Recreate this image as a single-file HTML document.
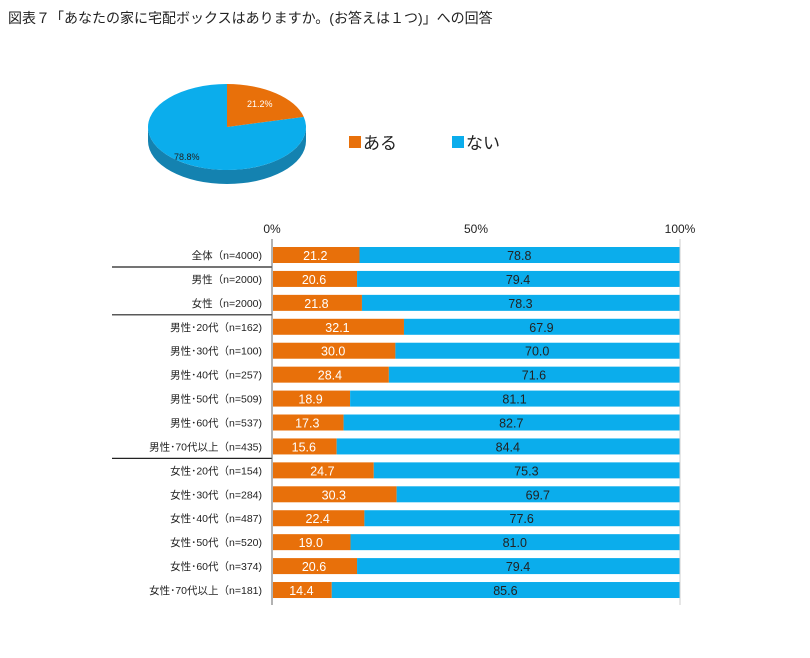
<!DOCTYPE html>
<html><head><meta charset="utf-8"><style>
body{margin:0;background:#fff;font-family:"Liberation Sans","Noto Sans CJK JP",sans-serif;}
</style></head><body>
<svg width="810" height="653" xmlns="http://www.w3.org/2000/svg" style="font-family:'Liberation Sans','Noto Sans CJK JP',sans-serif">
<text x="8" y="23" font-size="14" fill="#222">図表７「あなたの家に宅配ボックスはありますか。(お答えは１つ)」への回答</text>
<g id="pie"></g>
<rect x="349" y="136" width="12" height="12" fill="#e8700a"/>
<text x="363" y="149" font-size="17" fill="#222">ある</text>
<rect x="452" y="136" width="12" height="12" fill="#0badec"/>
<text x="466" y="149" font-size="17" fill="#222">ない</text>
<g id="bars"></g>
</svg>
<script>
const categories=["全体（n=4000)","男性（n=2000)","女性（n=2000)","男性･20代（n=162)","男性･30代（n=100)","男性･40代（n=257)","男性･50代（n=509)","男性･60代（n=537)","男性･70代以上（n=435)","女性･20代（n=154)","女性･30代（n=284)","女性･40代（n=487)","女性･50代（n=520)","女性･60代（n=374)","女性･70代以上（n=181)"];
const yesValues=[21.2,20.6,21.8,32.1,30.0,28.4,18.9,17.3,15.6,24.7,30.3,22.4,19.0,20.6,14.4];
const noValues=[78.8,79.4,78.3,67.9,70.0,71.6,81.1,82.7,84.4,75.3,69.7,77.6,81.0,79.4,85.6];
const tickValues=[0,50,100];
const separatorAfter=[0,2,8];
const pieValues=[21.2,78.8];
const NS="http://www.w3.org/2000/svg";
function mk(p,t,a){const e=document.createElementNS(NS,t);for(const k in a)e.setAttribute(k,a[k]);p.appendChild(e);return e;}
const x0=272,x1=680;
const xs=v=>x0+(x1-x0)*v/100;
const ys=i=>255+i*23.93;
const g=document.getElementById('bars');
tickValues.forEach(t=>{const tx=mk(g,'text',{x:xs(t),y:233,'font-size':12,fill:'#222','text-anchor':'middle'});tx.textContent=t+'%';

});
categories.forEach((c,i)=>{
 const y=ys(i);
 const l=mk(g,'text',{x:262,y:y+4,'font-size':10.5,fill:'#222','text-anchor':'end'});l.textContent=c;
 
 
 const b1=mk(g,'rect',{x:xs(0)+1,y:y-8,width:xs(yesValues[i])-xs(0),height:16,fill:'#e8700a'});
 
 
 const b2=mk(g,'rect',{x:xs(yesValues[i])+1,y:y-8,width:xs(100)-xs(yesValues[i])-1,height:16,fill:'#0badec'});
 
 
 const t1=mk(g,'text',{x:(xs(0)+xs(yesValues[i]))/2,y:y+5,'font-size':12.5,fill:'#fff','text-anchor':'middle'});t1.textContent=yesValues[i].toFixed(1);
 
 
 const t2=mk(g,'text',{x:(xs(yesValues[i])+xs(100))/2,y:y+5,'font-size':12.5,fill:'#222','text-anchor':'middle'});t2.textContent=noValues[i].toFixed(1);
 
 
});
separatorAfter.forEach(i=>{const yy=(ys(i)+ys(i+1))/2;const ln=mk(g,'line',{x1:112,x2:x0,y1:yy,y2:yy,stroke:'#222','stroke-width':1.2});

});
const ax=mk(g,'line',{x1:x0,x2:x0,y1:239,y2:605,stroke:'#666','stroke-width':1});


const ax2=mk(g,'line',{x1:x1,x2:x1,y1:239,y2:605,stroke:'#ccc','stroke-width':1});


// pie
const p=document.getElementById('pie');
const cx=227,cy=127,rx=79,ry=43,d=14;
const side=mk(p,'path',{d:`M${cx-rx},${cy} A${rx},${ry} 0 0 0 ${cx+rx},${cy} L${cx+rx},${cy+d} A${rx},${ry} 0 0 1 ${cx-rx},${cy+d} Z`,fill:'#1482b0'});


const tot=pieValues[0]+pieValues[1];
const a=2*Math.PI*pieValues[0]/tot;
const px=cx+rx*Math.sin(a),py=cy-ry*Math.cos(a);
const s2=mk(p,'path',{d:`M${cx},${cy} L${px},${py} A${rx},${ry} 0 1 1 ${cx},${cy-ry} Z`,fill:'#0badec'});


const s1=mk(p,'path',{d:`M${cx},${cy} L${cx},${cy-ry} A${rx},${ry} 0 0 1 ${px},${py} Z`,fill:'#e8700a'});


const l1=mk(p,'text',{x:cx+20,y:cy-20,'font-size':9,fill:'#fff'});l1.textContent=pieValues[0].toFixed(1)+'%';


const l2=mk(p,'text',{x:cx-53,y:cy+33,'font-size':9,fill:'#222'});l2.textContent=pieValues[1].toFixed(1)+'%';


</script>
</body></html>
